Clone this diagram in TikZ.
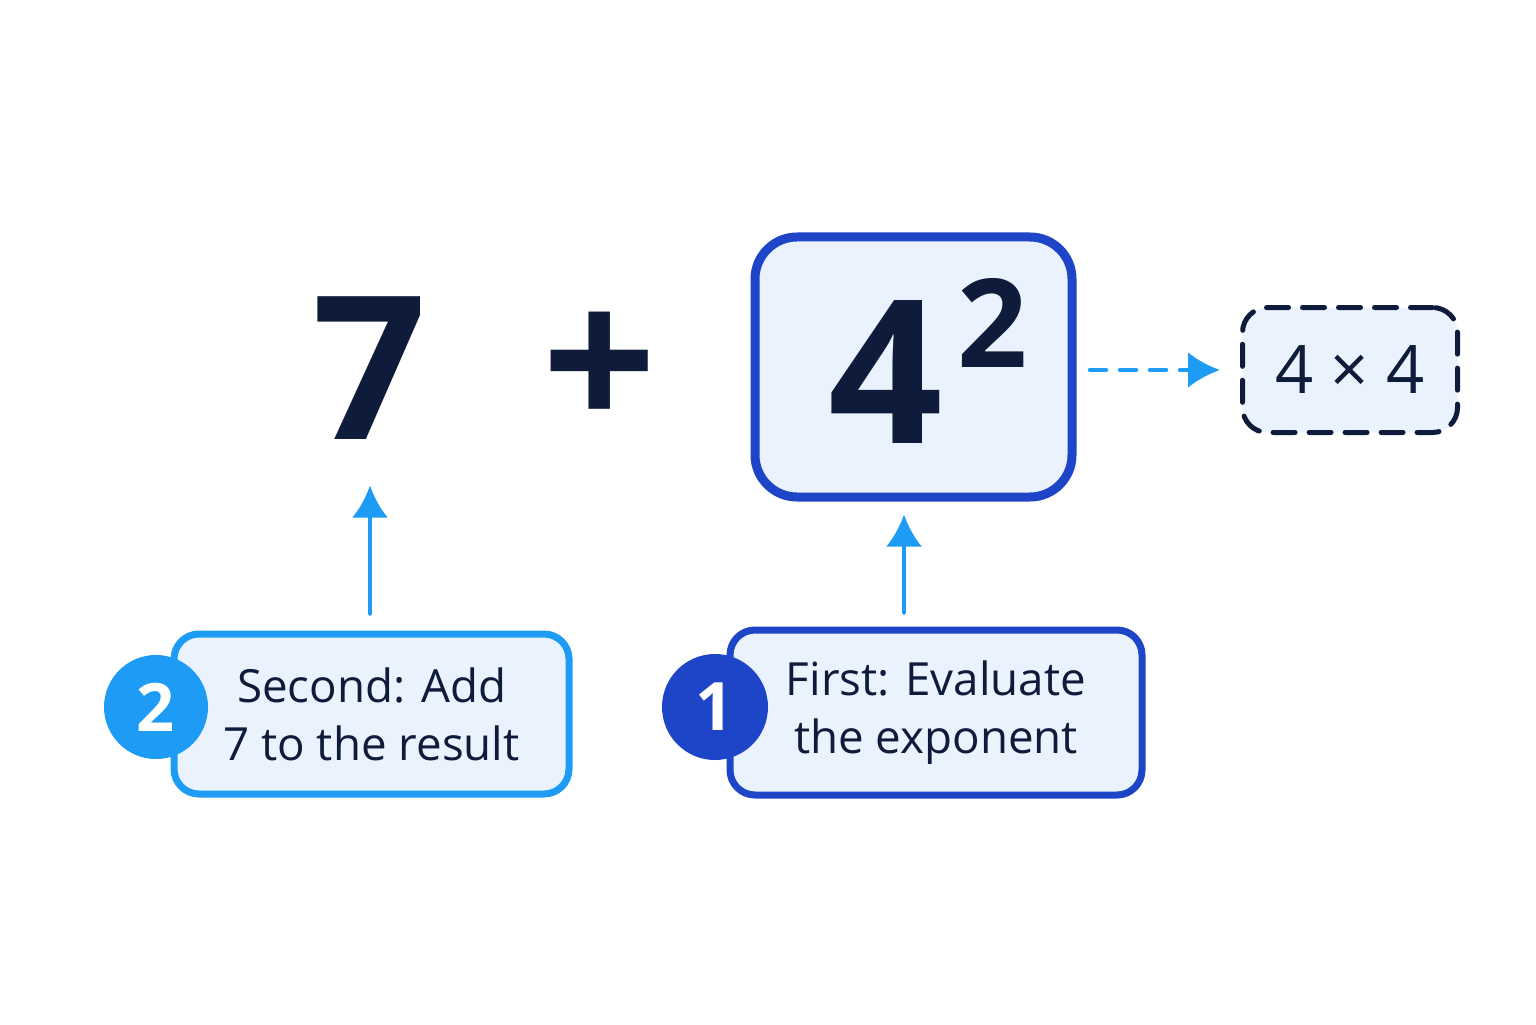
\documentclass[tikz,border=0pt]{standalone}
\usepackage{fontspec}
\setmainfont{Open Sans}
\usetikzlibrary{arrows.meta, positioning}

\definecolor{navy}{HTML}{0F1B3A}
\definecolor{deepblue}{HTML}{1E44C8}
\definecolor{skyblue}{HTML}{1E9BF5}
\definecolor{paleblue}{HTML}{EAF3FD}

\tikzset{%
    step box/.style = {%
        rounded corners = 0.25cm,
        line width = 0.7mm,
        fill = paleblue,
        minimum width = 3.95cm,
        minimum height = 1.6cm,
        align = center,
        text = navy,
        font = \fontsize{13}{16.5}\selectfont
    },
    badge/.style = {%
        circle,
        minimum size = 1.04cm,
        inner sep = 0pt,
        text = white,
        font = \fontsize{19}{19}\selectfont\bfseries
    },
    big/.style = {text = navy, inner sep = 0pt, font = \fontsize{57}{57}\selectfont\bfseries}
}

\begin{document}
\begin{tikzpicture}[%
        > = Latex,
        line cap = round
    ]

        % Canvas.
        \useasboundingbox (0, 0) rectangle (15.36, 10.24);

        % Expression parts.
        \node[big] (seven) at (3.70, 6.56) {7};
        \node[big] (plus) at (6.00, 6.52) {+};

        % Boxed power.
        \draw[%
            draw = deepblue,
            line width = 0.9mm,
            fill = paleblue,
            rounded corners = 0.42cm
        ] (7.55, 5.27) rectangle (10.72, 7.87);
        \coordinate (boxtop) at (9.04, 5.27);
        \node[big] (four) at (8.86, 6.52) {4};
        \node[text = navy, inner sep = 0pt, font = \fontsize{35}{35}\selectfont\bfseries] (sq) at (9.93, 7.01) {2};

        % Expanded product.
        \node[%
            draw = navy,
            dashed,
            dash pattern = on 2.2mm off 1.4mm,
            line width = 0.5mm,
            fill = paleblue,
            rounded corners = 0.25cm,
            minimum width = 2.15cm,
            minimum height = 1.25cm,
            text = navy,
            font = \fontsize{19}{19}\selectfont
        ] (prod) at (13.50, 6.54) {4 × 4};
        \coordinate (boxright) at (10.90, 6.54);

        % Step boxes with badges.
        \node[step box, draw = skyblue] (second) at (3.715, 3.10) {Second: Add\\7 to the result};
        \node[badge, fill = skyblue] (b2) at (1.56, 3.17) {2};
        \node[step box, draw = deepblue, minimum width = 4.12cm, minimum height = 1.65cm] (first) at (9.36, 3.115) {First: Evaluate\\the exponent};
        \node[badge, fill = deepblue, minimum size = 1.06cm] (b1) at (7.15, 3.17) {1};

        % Arrows.
        \begin{scope}[draw = skyblue, line width = 0.45mm, -{Latex[length = 3.2mm, width = 3.6mm]}]
            \draw (second.north -| seven) ++(0, 0.17) coordinate (s2) -- ++(0, 1.28);
            \draw (first.north -| boxtop) ++(0, 0.14) coordinate (s1) -- ++(0, 0.98);
            \draw[dash pattern = on 1.6mm off 1.4mm] (boxright) -- ([xshift = -2mm]prod.west);
        \end{scope}
    \end{tikzpicture}
\end{document}
